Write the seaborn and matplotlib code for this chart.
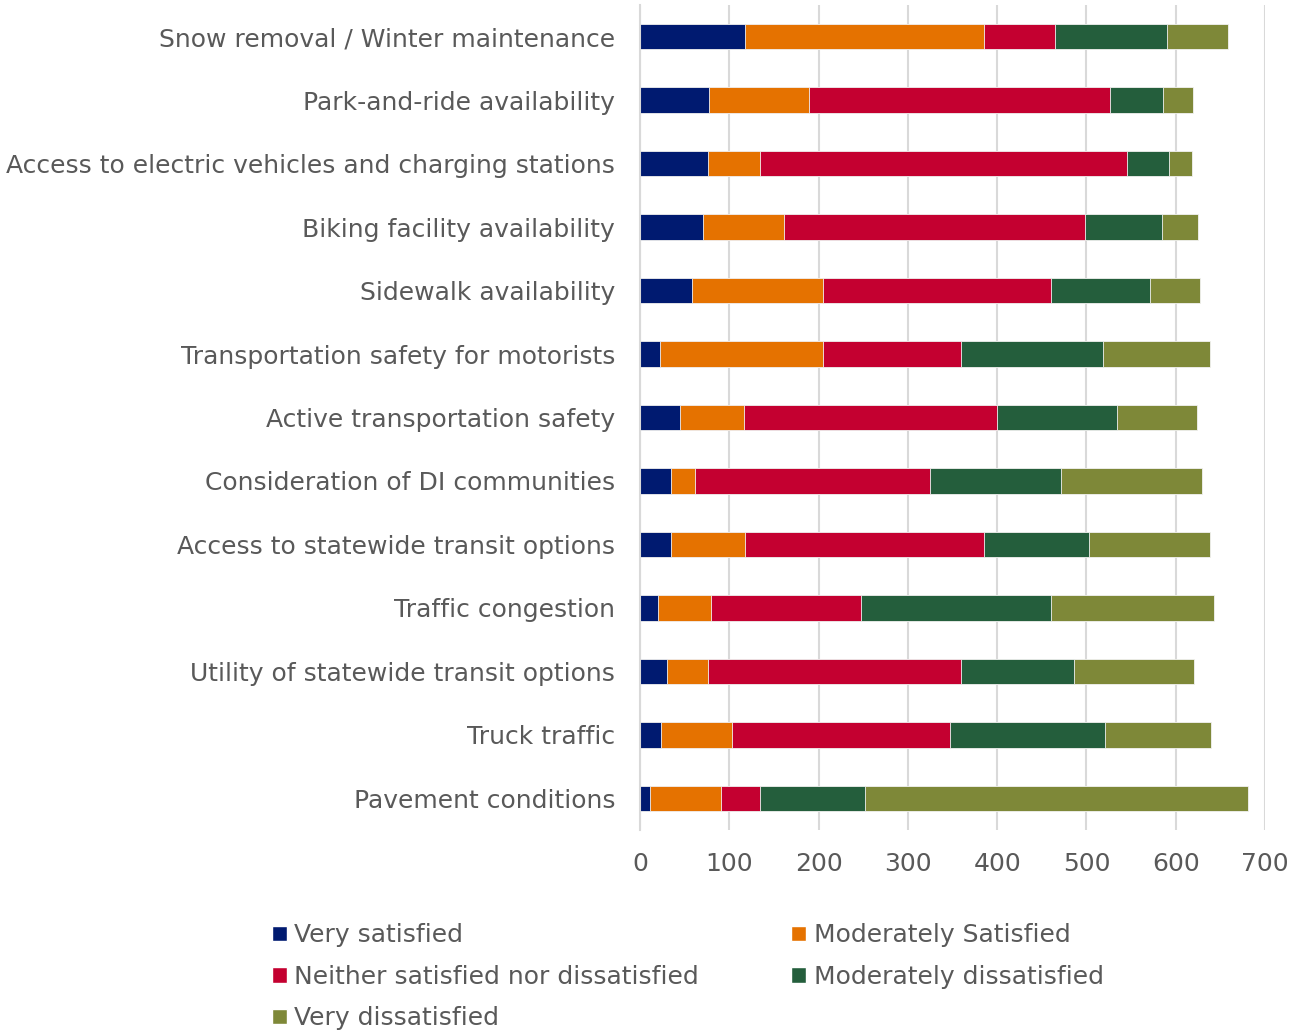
import pandas as pd
import numpy as np
import matplotlib.pyplot as plt
import seaborn as sns
from matplotlib.patches import Patch

categories = ['Snow removal / Winter maintenance', 'Park-and-ride availability',
              'Access to electric vehicles and charging stations', 'Biking facility availability',
              'Sidewalk availability', 'Transportation safety for motorists',
              'Active transportation safety', 'Consideration of DI communities',
              'Access to statewide transit options', 'Traffic congestion',
              'Utility of statewide transit options', 'Truck traffic', 'Pavement conditions']

very_satisfied = [118, 77, 76, 71, 58, 22, 45, 35, 35, 20, 30, 23, 11]
moderately_satisfied = [267, 112, 58, 90, 147, 183, 71, 27, 83, 59, 46, 80, 80]
neither = [80, 337, 412, 337, 255, 155, 284, 263, 267, 169, 283, 244, 43]
moderately_dissatisfied = [125, 60, 47, 87, 111, 159, 134, 147, 118, 212, 127, 174, 118]
very_dissatisfied = [69, 33, 25, 40, 56, 119, 90, 157, 135, 183, 134, 118, 429]

series = ['Very satisfied', 'Moderately Satisfied', 'Neither satisfied nor dissatisfied',
          'Moderately dissatisfied', 'Very dissatisfied']
colors = ['#001a70', '#e57200', '#c40030', '#245e3c', '#7e8838']

df = pd.DataFrame({'category': categories,
                   series[0]: very_satisfied,
                   series[1]: moderately_satisfied,
                   series[2]: neither,
                   series[3]: moderately_dissatisfied,
                   series[4]: very_dissatisfied})
cum = df[series].cumsum(axis=1)
cum['category'] = df['category']

sns.set_style('white')
plt.rcParams['font.family'] = ['DejaVu Sans']

fig = plt.figure(figsize=(12.99, 10.32), dpi=100)
ax = fig.add_axes([0.4927, 0.1957, 0.4811, 0.7995])

# stacked bars: draw cumulative totals from the right end back to the left
for s, c in reversed(list(zip(series, colors))):
    sns.barplot(data=cum, x=s, y='category', color=c, saturation=1, width=0.4,
                linewidth=0.6, edgecolor='#f2f2f2', ax=ax, orient='h')

ax.set_xlim(0, 700)
ax.set_ylim(12.5, -0.5)
ax.set_xticks(range(0, 701, 100))
ax.xaxis.grid(True, color='#d9d9d9', linewidth=1.5)
ax.set_axisbelow(True)
for sp in ['top', 'right', 'bottom']:
    ax.spines[sp].set_visible(False)
ax.spines['left'].set_color('#d9d9d9')
ax.spines['left'].set_linewidth(1.5)
ax.set_xlabel('')
ax.set_ylabel('')
ax.tick_params(axis='y', length=0, pad=18, labelsize=18, labelcolor='#595959')
ax.tick_params(axis='x', length=0, pad=16, labelsize=18, labelcolor='#595959')

order = [0, 2, 4, 1, 3]
handles = [Patch(facecolor=colors[i]) for i in order]
labels = [series[i] for i in order]
fig.legend(handles, labels, ncol=2, loc='upper left', bbox_to_anchor=(0.2015, 0.115),
           frameon=False, fontsize=18, labelcolor='#595959', handlelength=0.6,
           handleheight=0.6, handletextpad=0.3, columnspacing=3.7, labelspacing=0.7,
           borderaxespad=0)

fig.savefig('out.png', dpi=100)
